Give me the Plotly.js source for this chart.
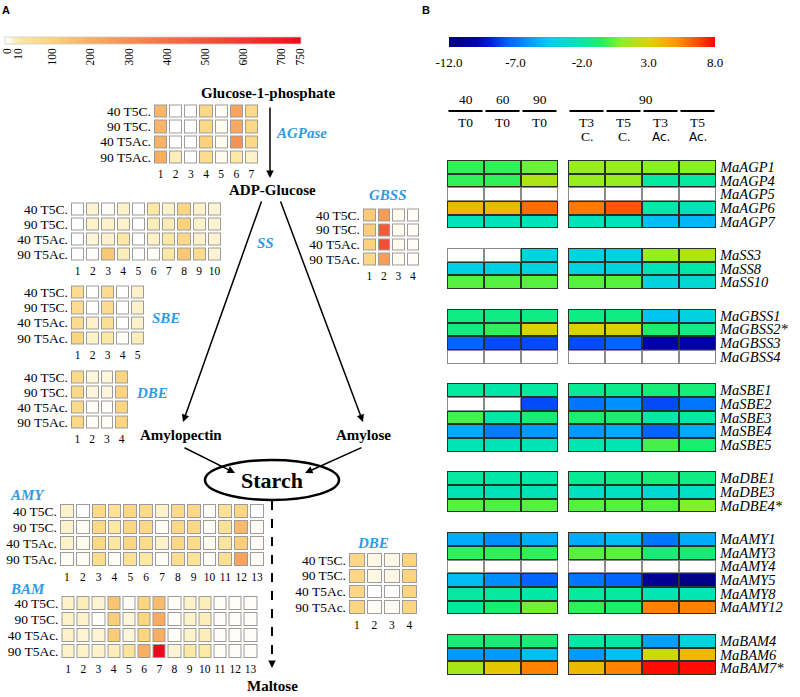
<!DOCTYPE html>
<html><head><meta charset="utf-8">
<script src="https://cdn.plot.ly/plotly-3.0.1.min.js"></script>
<style>html,body{margin:0;padding:0;background:#fff}#chart{width:800px;height:697px}</style>
</head><body><div id="chart"></div>
<script>
// ================= Panel A data (expression, 0-750) =================
const rowLabelsA = ['40 T5C.', '90 T5C.', '40 T5Ac.', '90 T5Ac.'];
const colorTicksA = [0, 10, 100, 200, 300, 400, 500, 600, 700, 750];
const agpaseVals = [
  [180, 0, 0, 80, 1, 230, 70],
  [180, 0, 0, 80, 2, 220, 75],
  [190, 0, 0, 100, 2, 290, 75],
  [200, 8, 0, 60, 2, 15, 6]];
const ssVals = [
  [0, 5, 1, 6, 0, 10, 6, 80, 6, 5],
  [0, 6, 6, 6, 0, 8, 8, 100, 6, 5],
  [0, 4, 6, 15, 0, 6, 10, 75, 6, 5],
  [0, 1, 130, 8, 0, 1, 10, 130, 60, 5]];
const gbssVals = [
  [120, 260, 2, 1],
  [110, 480, 2, 1],
  [100, 520, 2, 1],
  [80, 250, 2, 1]];
const sbeVals = [
  [60, 0, 60, 0, 6],
  [60, 0, 60, 0, 6],
  [60, 6, 50, 0, 6],
  [90, 6, 10, 1, 8]];
const dbeLeftVals = [
  [70, 4, 4, 90],
  [70, 4, 4, 90],
  [70, 1, 1, 90],
  [80, 1, 1, 90]];
const amyVals = [
  [6, 0, 70, 40, 80, 70, 6, 70, 75, 1, 40, 90, 0],
  [6, 1, 75, 15, 85, 75, 1, 75, 80, 1, 40, 170, 1],
  [6, 2, 75, 20, 85, 65, 6, 80, 65, 2, 30, 110, 1],
  [1, 1, 55, 1, 40, 15, 1, 55, 35, 1, 50, 230, 1]];
const bamVals = [
  [6, 8, 5, 140, 1, 90, 160, 1, 6, 8, 1, 1, 1],
  [6, 6, 1, 110, 4, 90, 210, 1, 6, 8, 1, 1, 1],
  [6, 5, 5, 120, 4, 90, 200, 1, 6, 8, 1, 1, 1],
  [6, 6, 6, 8, 30, 200, 750, 5, 15, 10, 1, 1, 1]];
const dbeRightVals = [
  [80, 3, 3, 90],
  [80, 3, 3, 90],
  [80, 0, 0, 90],
  [90, 1, 1, 90]];

// ================= Panel B data (log2 fold change, -12..8; null = not detected) =================
const colGroupLeftTop = ['40', '60', '90'];
const colGroupLeftBottom = ['T0', 'T0', 'T0'];
const colGroupRightTop = '90';
const colRightT = ['T3', 'T5', 'T3', 'T5'];
const colRightS = ['C.', 'C.', 'Ac.', 'Ac.'];
const colorTicksB = [-12, -7, -2, 3, 8];

const genesAGP = ['MaAGP1', 'MaAGP4', 'MaAGP5', 'MaAGP6', 'MaAGP7'];
const valsAGP = [
  [-0.3, -0.3, 0.5, 1.2, 1.2, 0.9, 0.9],
  [-0.3, -0.3, 1.8, 1.2, 1.2, -1.8, -1.8],
  [null, null, null, null, null, null, null],
  [4.0, 4.0, 6.0, 5.7, 6.5, -2.0, -2.5],
  [-2.6, -2.6, -2.6, -2.6, -2.6, -5.0, -5.2]];
const genesSS = ['MaSS3', 'MaSS8', 'MaSS10'];
const valsSS = [
  [null, null, -4.0, -4.0, -4.2, 1.2, 2.0],
  [-4.2, -4.2, -4.0, -4.0, -4.0, -2.5, -2.0],
  [0.2, 0.2, 0.2, 0.2, 0.2, -4.0, -3.5]];
const genesGBSS = ['MaGBSS1', 'MaGBSS2*', 'MaGBSS3', 'MaGBSS4'];
const valsGBSS = [
  [-1.3, -1.3, -1.3, -1.3, -1.3, -4.8, -4.0],
  [-1.2, -0.3, 3.0, 3.0, 3.0, -0.8, -1.3],
  [-7.5, -8.0, -8.0, -8.0, -7.5, -10.5, -10.5],
  [null, null, null, null, null, null, null]];
const genesSBE = ['MaSBE1', 'MaSBE2', 'MaSBE3', 'MaSBE4', 'MaSBE5'];
const valsSBE = [
  [-1.8, -2.0, -1.8, -1.6, -1.4, -1.0, -1.0],
  [null, null, -8.0, -7.0, -6.2, -8.0, -7.0],
  [0.0, -2.0, -1.0, -0.8, -0.8, -2.0, -2.0],
  [-5.5, -6.8, -6.0, -6.0, -5.5, -7.5, -5.5],
  [-2.5, -2.5, -2.5, -2.3, -2.3, 0.0, -0.8]];
const genesDBE = ['MaDBE1', 'MaDBE3', 'MaDBE4*'];
const valsDBE = [
  [-1.8, -2.0, -2.0, -1.6, -1.3, -1.0, -1.3],
  [-2.5, -2.6, -2.5, -2.8, -2.8, -3.5, -3.0],
  [0.2, 0.1, 0.2, 0.2, 0.2, 0.2, 0.8]];
const genesAMY = ['MaAMY1', 'MaAMY3', 'MaAMY4', 'MaAMY5', 'MaAMY8', 'MaAMY12'];
const valsAMY = [
  [-5.5, -6.3, -5.5, -5.5, -5.0, -7.0, -5.5],
  [-0.3, -0.3, -0.3, 0.3, 0.3, -1.0, -1.0],
  [null, null, null, null, null, null, null],
  [-5.0, -6.3, -7.5, -7.0, -7.5, -11.2, -11.8],
  [-1.8, -1.8, -2.0, -1.8, -1.8, -2.3, -2.3],
  [-1.8, -0.8, 0.6, -0.3, -0.6, 5.5, 5.5]];
const genesBAM = ['MaBAM4', 'MaBAM6', 'MaBAM7*'];
const valsBAM = [
  [-1.0, -1.0, -1.0, -2.0, -2.0, -5.8, -4.0],
  [-6.0, -6.0, -5.0, -6.0, -5.0, 2.6, 4.0],
  [1.6, 3.5, 5.5, 4.0, 5.5, 7.8, 7.8]];

// ================= helpers =================
const W = 800, H = 697;
const px = p => p / W;
const py = p => 1 - p / H;
const SERIF = 'Liberation Serif, Times New Roman, serif';
const SANS = 'Liberation Sans, Arial, sans-serif';
const BLUE = '#2f9be3';

const colorscaleA = [[0, '#ffffff'], [10 / 750, '#fde9a6'], [100 / 750, '#fcd27c'], [200 / 750, '#f9ae62'],
  [300 / 750, '#f68e52'], [400 / 750, '#f47046'], [500 / 750, '#f1553a'], [600 / 750, '#ee3a2e'],
  [700 / 750, '#ec1e22'], [1, '#ea0a1a']];
const colorscaleB = [[0, '#000080'], [0.1, '#0000b0'], [0.16, '#0020e8'], [0.22, '#0060ff'], [0.3, '#0099ff'],
  [0.37, '#00ccf0'], [0.46, '#00e0c0'], [0.5, '#00e8a8'], [0.575, '#20f060'], [0.65, '#90f020'],
  [0.76, '#e0d000'], [0.85, '#ff9a00'], [0.93, '#ff5000'], [1, '#ff0000']];

const traces = [];
const layout = {
  width: W, height: H, margin: {l: 0, r: 0, t: 0, b: 0},
  paper_bgcolor: '#fff', plot_bgcolor: 'rgba(0,0,0,0)',
  font: {family: SERIF, color: '#000'},
  showlegend: false, annotations: [], shapes: []
};
const axKey = (c, i) => (i === 1 ? c + 'axis' : c + 'axis' + i);
const axRef = (c, i) => (i === 1 ? c : c + i);
const bare = {showgrid: false, zeroline: false, showline: false, ticks: '', ticklen: 0, automargin: false, fixedrange: true};

function addGridA(i, z, box) {
  const [l, r, t, b] = box;
  const n = z[0].length;
  const cols = z[0].map((_, k) => k + 1);
  const rows = z.map((_, k) => k);
  const common = {type: 'heatmap', x: cols, y: rows, showscale: false, hoverinfo: 'skip',
    xaxis: axRef('x', i), yaxis: axRef('y', i)};
  traces.push(Object.assign({}, common, {z: z.map(rw => rw.map(() => 1)), zmin: 0, zmax: 1,
    colorscale: [[0, '#9c9c9c'], [1, '#9c9c9c']], xgap: 2, ygap: 2}));
  traces.push(Object.assign({}, common, {z: z, zmin: 0, zmax: 750, colorscale: colorscaleA, xgap: 4, ygap: 4}));
  layout[axKey('x', i)] = Object.assign({domain: [px(l), px(r)], range: [0.5, n + 0.5], anchor: axRef('y', i),
    tickvals: cols, ticktext: cols.map(String), tickfont: {family: SERIF, size: 11.5, color: '#000'},
    ticklabelstandoff: 1}, bare);
  layout[axKey('y', i)] = Object.assign({domain: [py(b), py(t)], range: [rows.length - 0.5, -0.5], anchor: axRef('x', i),
    tickvals: rows, ticktext: rowLabelsA, tickfont: {family: SERIF, size: 13.5, color: '#000'},
    ticklabelstandoff: 1}, bare);
}

// ---------- Panel A colour bar (axis 1) ----------
const posA = v => (v <= 10 ? 2 + v * 1.1 : 13 + (v - 10) * 0.382);
const invA = p => (p <= 2 ? 0 : (p <= 13 ? (p - 2) / 1.1 : 10 + (p - 13) / 0.382));
const barAX = [], barAZ = [];
for (let p = 0; p < 296; p++) { barAX.push(p + 0.5); barAZ.push(invA(p + 0.5)); }
traces.push({type: 'heatmap', x: barAX, y: [0], z: [barAZ], zmin: 0, zmax: 750, colorscale: colorscaleA,
  showscale: false, hoverinfo: 'skip', xaxis: 'x', yaxis: 'y'});
layout.xaxis = Object.assign({domain: [px(5), px(301)], range: [0, 296], anchor: 'y', tickvals: colorTicksA.map(posA),
  ticktext: colorTicksA.map(String), tickangle: -90, tickfont: {family: SERIF, size: 11.5, color: '#000'},
  ticklabelstandoff: 1}, bare);
layout.yaxis = Object.assign({domain: [py(44), py(37)], range: [-0.5, 0.5], anchor: 'x', showticklabels: false}, bare);
layout.shapes.push({type: 'rect', xref: 'paper', yref: 'paper', x0: px(5), x1: px(301), y0: py(44), y1: py(37),
  line: {color: '#cccccc', width: 0.8}});

// ---------- Panel A grids ----------
addGridA(2, agpaseVals, [153, 259, 103.5, 164.5]);
addGridA(3, ssVals, [70, 222, 201.5, 261.5]);
addGridA(4, gbssVals, [362, 420, 207.5, 266.5]);
addGridA(5, sbeVals, [70, 145, 284.5, 345.5]);
addGridA(6, dbeLeftVals, [70, 129, 369.5, 429.5]);
addGridA(7, amyVals, [59, 265, 503, 567]);
addGridA(8, bamVals, [60.5, 258, 595, 659]);
addGridA(9, dbeRightVals, [348, 418, 552, 615]);

// ---------- Panel A texts ----------
function txt(x, y, text, size, opts) {
  layout.annotations.push(Object.assign({xref: 'paper', yref: 'paper', x: px(x), y: py(y), text: text,
    showarrow: false, xanchor: 'center', yanchor: 'middle', font: {family: SERIF, size: size, color: '#000'}}, opts || {}));
}
txt(6, 10, '<b>A</b>', 11, {font: {family: SANS, size: 11, color: '#000'}});
txt(426, 10, '<b>B</b>', 11, {font: {family: SANS, size: 11, color: '#000'}});
txt(268, 93, '<b>Glucose-1-phosphate</b>', 15);
txt(272, 190, '<b>ADP-Glucose</b>', 15);
txt(181, 435, '<b>Amylopectin</b>', 15);
txt(363, 435, '<b>Amylose</b>', 15);
txt(272, 480, '<b>Starch</b>', 22);
txt(272, 686, '<b>Maltose</b>', 15);
const enzymeLabels = [['AGPase', 301, 133], ['SS', 265, 243], ['GBSS', 388, 195], ['SBE', 166, 318],
  ['DBE', 152, 393], ['AMY', 27, 495], ['BAM', 27, 589], ['DBE', 373, 543]];
enzymeLabels.forEach(e => txt(e[1], e[2], '<b><i>' + e[0] + '</i></b>', 15,
  {font: {family: SERIF, size: 15, color: BLUE}}));

// arrows
function arrow(hx, hy, tx, ty) {
  layout.annotations.push({xref: 'paper', yref: 'paper', x: px(hx), y: py(hy), ax: tx - hx, ay: ty - hy,
    text: '', showarrow: true, arrowhead: 2, arrowsize: 1, arrowwidth: 1.5, arrowcolor: '#000'});
}
arrow(270, 178, 270, 106);
arrow(183, 422, 262, 200);
arrow(363, 422, 280, 200);
arrow(235, 473, 183, 447);
arrow(305, 473, 363, 447);
arrow(272, 668, 272, 660);
layout.shapes.push({type: 'line', xref: 'paper', yref: 'paper', x0: px(272), x1: px(272), y0: py(501), y1: py(662),
  line: {color: '#000', width: 2, dash: 'dash'}});
layout.shapes.push({type: 'circle', xref: 'paper', yref: 'paper', x0: px(205), x1: px(339), y0: py(500), y1: py(460),
  line: {color: '#000', width: 2.5}});

// ================= Panel B =================
// colour bar (axis 10)
const barBX = [];
for (let v = -12; v <= 8.0001; v += 0.05) barBX.push(v);
traces.push({type: 'heatmap', x: barBX, y: [0], z: [barBX], zmin: -12, zmax: 8, colorscale: colorscaleB,
  showscale: false, hoverinfo: 'skip', xaxis: 'x10', yaxis: 'y10'});
layout.xaxis10 = Object.assign({domain: [px(449), px(715)], range: [-12, 8], anchor: 'y10', tickvals: colorTicksB,
  ticktext: colorTicksB.map(v => v.toFixed(1)), tickfont: {family: SERIF, size: 13, color: '#000'},
  ticklabelstandoff: 6}, bare);
layout.yaxis10 = Object.assign({domain: [py(47), py(37)], range: [-0.5, 0.5], anchor: 'x10', showticklabels: false}, bare);

// heat map (axis 11)
const groupsB = [[genesAGP, valsAGP], [genesSS, valsSS], [genesGBSS, valsGBSS], [genesSBE, valsSBE],
  [genesDBE, valsDBE], [genesAMY, valsAMY], [genesBAM, valsBAM]];
const GAPROW = 1.45;
const gcol = 10 / 37;
const xEdges = [0, 1, 2, 3, 3 + gcol, 4 + gcol, 5 + gcol, 6 + gcol, 7 + gcol];
const colCenters = [0.5, 1.5, 2.5, 3.5 + gcol, 4.5 + gcol, 5.5 + gcol, 6.5 + gcol];
let yPos = 0;
const yEdges = [0], zVal = [], zMask = [], zNA = [], tickV = [], tickT = [];
const emptyRow = () => Array(8).fill(null);
groupsB.forEach((g, gi) => {
  if (gi > 0) {
    zVal.push(emptyRow()); zMask.push(emptyRow()); zNA.push(emptyRow());
    yPos += GAPROW; yEdges.push(yPos);
  }
  g[0].forEach((name, ri) => {
    const v = g[1][ri];
    const row = [v[0], v[1], v[2], null, v[3], v[4], v[5], v[6]];
    zVal.push(row);
    zMask.push(row.map((c, ci) => (ci === 3 ? null : (c === null ? 0 : 1))));
    zNA.push(row.map((c, ci) => (ci === 3 ? null : (c === null ? 1 : null))));
    tickV.push(yPos + 0.5); tickT.push('<i>' + name + '</i>');
    yPos += 1; yEdges.push(yPos);
  });
});
const commonB = {type: 'heatmap', x: xEdges, y: yEdges, showscale: false, hoverinfo: 'skip', xaxis: 'x11', yaxis: 'y11'};
traces.push(Object.assign({}, commonB, {z: zMask, zmin: 0, zmax: 1, colorscale: [[0, '#8a8a8a'], [1, '#263326']]}));
traces.push(Object.assign({}, commonB, {z: zNA, zmin: 0, zmax: 1, colorscale: [[0, '#ffffff'], [1, '#ffffff']], xgap: 2, ygap: 2}));
traces.push(Object.assign({}, commonB, {z: zVal, zmin: -12, zmax: 8, colorscale: colorscaleB, xgap: 2, ygap: 2}));
layout.xaxis11 = Object.assign({domain: [px(447), px(716)], range: [0, 7 + gcol], anchor: 'y11', showticklabels: false}, bare);
layout.yaxis11 = Object.assign({domain: [py(675), py(160)], range: [yPos, 0], anchor: 'x11', side: 'right',
  tickvals: tickV, ticktext: tickT, tickfont: {family: SERIF, size: 14.5, color: '#000'},
  ticklabelstandoff: 3}, bare);

// column headers
function txtB(xc, y, text, font) {
  layout.annotations.push({xref: 'x11', yref: 'paper', x: xc, y: py(y), text: text, showarrow: false,
    xanchor: 'center', yanchor: 'middle', font: font || {family: SERIF, size: 13.5, color: '#000'}});
}
colGroupLeftTop.forEach((t, k) => txtB(colCenters[k], 100, t));
colGroupLeftBottom.forEach((t, k) => txtB(colCenters[k], 122, t));
txtB((colCenters[3] + colCenters[6]) / 2 + 0.1, 100, colGroupRightTop);
colRightT.forEach((t, k) => txtB(colCenters[3 + k], 122, t));
colRightS.forEach((t, k) => txtB(colCenters[3 + k], 137, t,
  t === 'Ac.' ? {family: 'DejaVu Sans, sans-serif', size: 12, color: '#000'} : {family: SERIF, size: 13.5, color: '#000'}));
colCenters.forEach(c => layout.shapes.push({type: 'line', xref: 'x11', yref: 'paper', x0: c - 0.46, x1: c + 0.46,
  y0: py(111), y1: py(111), line: {color: '#000', width: 2}}));

Plotly.newPlot('chart', traces, layout, {displayModeBar: false, staticPlot: true});
</script></body></html>
